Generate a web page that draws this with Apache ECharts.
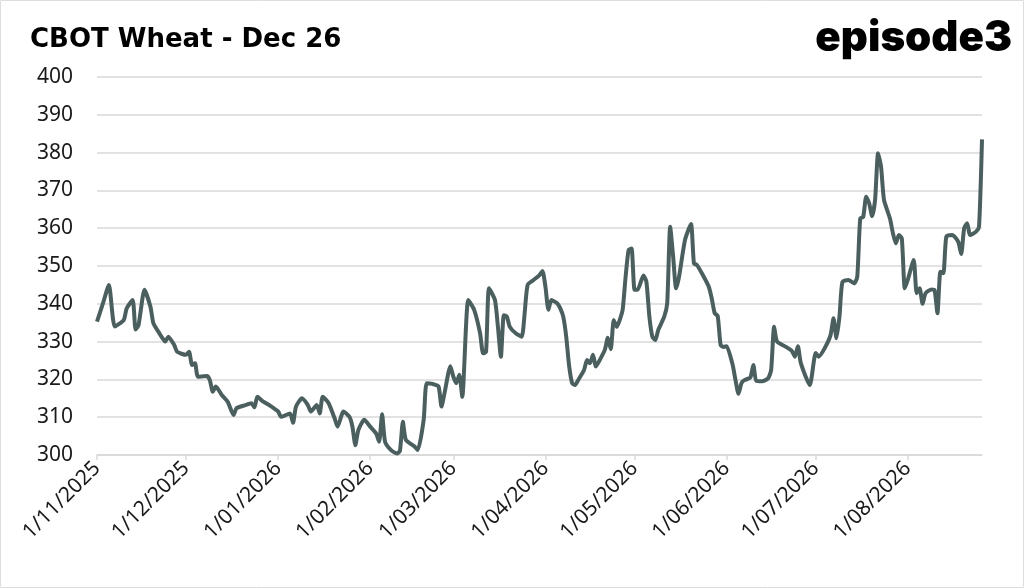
<!DOCTYPE html>
<html>
<head>
<meta charset="utf-8">
<title>CBOT Wheat - Dec 26</title>
<script src="https://cdn.jsdelivr.net/npm/echarts@6/dist/echarts.min.js"></script>
<style>
  html, body { margin: 0; padding: 0; background: #fff; }
  #chart { width: 1024px; height: 588px; }
</style>
</head>
<body>
<div id="chart"></div>
<script>
// price history
var tradeDates = [
  '2025-11-01', '2025-11-03', '2025-11-05', '2025-11-07', '2025-11-10', '2025-11-11', '2025-11-13', '2025-11-14',
  '2025-11-15', '2025-11-17', '2025-11-19', '2025-11-20', '2025-11-22', '2025-11-24', '2025-11-25', '2025-11-27',
  '2025-11-28', '2025-12-01', '2025-12-02', '2025-12-03', '2025-12-04', '2025-12-05', '2025-12-08', '2025-12-09',
  '2025-12-10', '2025-12-11', '2025-12-13', '2025-12-15', '2025-12-17', '2025-12-18', '2025-12-21', '2025-12-23',
  '2025-12-24', '2025-12-25', '2025-12-27', '2025-12-29', '2026-01-01', '2026-01-02', '2026-01-05', '2026-01-06',
  '2026-01-07', '2026-01-09', '2026-01-11', '2026-01-12', '2026-01-14', '2026-01-15', '2026-01-16', '2026-01-18',
  '2026-01-20', '2026-01-21', '2026-01-23', '2026-01-25', '2026-01-26', '2026-01-27', '2026-01-28', '2026-01-30',
  '2026-02-01', '2026-02-03', '2026-02-04', '2026-02-05', '2026-02-06', '2026-02-08', '2026-02-10', '2026-02-11',
  '2026-02-12', '2026-02-13', '2026-02-16', '2026-02-17', '2026-02-19', '2026-02-20', '2026-02-22', '2026-02-24',
  '2026-02-25', '2026-02-26', '2026-02-28', '2026-03-01', '2026-03-02', '2026-03-03', '2026-03-04', '2026-03-06',
  '2026-03-08', '2026-03-10', '2026-03-11', '2026-03-12', '2026-03-13', '2026-03-15', '2026-03-16', '2026-03-17',
  '2026-03-18', '2026-03-19', '2026-03-20', '2026-03-22', '2026-03-24', '2026-03-25', '2026-03-26', '2026-03-28',
  '2026-03-30', '2026-03-31', '2026-04-01', '2026-04-02', '2026-04-03', '2026-04-05', '2026-04-06', '2026-04-07',
  '2026-04-08', '2026-04-09', '2026-04-10', '2026-04-11', '2026-04-12', '2026-04-14', '2026-04-15', '2026-04-16',
  '2026-04-17', '2026-04-18', '2026-04-19', '2026-04-21', '2026-04-22', '2026-04-23', '2026-04-24', '2026-04-25',
  '2026-04-26', '2026-04-27', '2026-04-28', '2026-04-29', '2026-04-30', '2026-05-01', '2026-05-02', '2026-05-04',
  '2026-05-05', '2026-05-06', '2026-05-07', '2026-05-08', '2026-05-09', '2026-05-11', '2026-05-12', '2026-05-13',
  '2026-05-14', '2026-05-15', '2026-05-16', '2026-05-18', '2026-05-20', '2026-05-21', '2026-05-22', '2026-05-24',
  '2026-05-26', '2026-05-27', '2026-05-28', '2026-05-29', '2026-05-30', '2026-05-31', '2026-06-01', '2026-06-03',
  '2026-06-04', '2026-06-05', '2026-06-06', '2026-06-07', '2026-06-09', '2026-06-10', '2026-06-11', '2026-06-13',
  '2026-06-15', '2026-06-16', '2026-06-17', '2026-06-18', '2026-06-21', '2026-06-23', '2026-06-24', '2026-06-25',
  '2026-06-26', '2026-06-29', '2026-07-01', '2026-07-02', '2026-07-04', '2026-07-06', '2026-07-07', '2026-07-08',
  '2026-07-09', '2026-07-10', '2026-07-12', '2026-07-14', '2026-07-15', '2026-07-16', '2026-07-17', '2026-07-18',
  '2026-07-19', '2026-07-20', '2026-07-21', '2026-07-22', '2026-07-23', '2026-07-24', '2026-07-26', '2026-07-27',
  '2026-07-28', '2026-07-29', '2026-07-30', '2026-07-31', '2026-08-01', '2026-08-03', '2026-08-04', '2026-08-05',
  '2026-08-06', '2026-08-07', '2026-08-09', '2026-08-10', '2026-08-11', '2026-08-12', '2026-08-13', '2026-08-14',
  '2026-08-16', '2026-08-18', '2026-08-19', '2026-08-20', '2026-08-21', '2026-08-22', '2026-08-24', '2026-08-25',
  '2026-08-26'
];

var prices = [
  335.3, 340.1, 345.0, 334.0, 335.7, 338.8, 341.0, 333.2,
  334.4, 343.7, 339.2, 334.8, 332.2, 330.0, 331.3, 329.1,
  327.3, 326.5, 327.3, 323.8, 324.3, 320.7, 320.9, 319.8,
  316.7, 318.1, 315.9, 314.1, 310.6, 312.4, 313.2, 313.7,
  312.6, 315.4, 314.1, 313.2, 311.5, 310.1, 311.0, 308.5,
  312.8, 315.0, 313.2, 311.5, 313.2, 311.0, 315.4, 313.7,
  309.7, 307.5, 311.5, 310.1, 307.5, 302.6, 306.6, 309.3,
  307.5, 305.7, 303.5, 310.8, 303.5, 301.3, 300.4, 301.1,
  308.8, 304.0, 302.2, 301.3, 309.3, 319.0, 318.8, 318.1,
  312.8, 316.3, 323.5, 320.7, 319.0, 321.2, 315.4, 341.0,
  338.4, 332.2, 326.9, 327.3, 344.1, 341.0, 333.9, 326.0,
  337.0, 336.6, 333.9, 332.2, 331.3, 337.5, 345.0, 346.3,
  347.6, 348.7, 344.5, 338.4, 341.0, 340.1, 338.8, 336.6,
  331.3, 323.4, 319.0, 318.5, 319.8, 322.5, 325.1, 324.3,
  326.5, 323.4, 324.7, 327.8, 331.0, 328.0, 335.7, 333.9,
  335.7, 338.4, 347.2, 354.2, 354.6, 343.7, 343.7, 347.5,
  345.8, 336.6, 331.3, 330.4, 333.1, 336.6, 340.1, 360.4,
  352.5, 344.1, 347.2, 356.9, 361.1, 350.7, 350.3, 347.6,
  344.5, 341.4, 337.5, 336.8, 329.1, 328.6, 328.8, 324.0,
  319.8, 316.2, 319.0, 319.8, 320.5, 323.8, 319.6, 319.5,
  320.3, 322.5, 333.9, 330.0, 328.6, 327.5, 326.0, 328.8,
  324.3, 318.5, 327.0, 326.0, 328.2, 331.7, 336.2, 330.9,
  336.6, 345.8, 346.3, 345.4, 347.2, 362.6, 363.0, 368.3,
  366.6, 363.2, 367.5, 379.8, 376.3, 367.5, 362.6, 358.7,
  356.0, 358.2, 357.3, 344.1, 346.3, 351.6, 342.8, 344.1,
  340.0, 342.8, 343.8, 343.7, 337.5, 348.5, 348.1, 357.8,
  358.2, 356.4, 353.2, 360.0, 361.3, 358.2, 359.1, 360.4,
  383.5
];

var axisStart = '2025-11-01';
var axisEnd = '2026-08-26';
var priceMin = 300;
var priceMax = 400;
var priceStep = 10;

var DAY = 24 * 3600 * 1000;
var lineColor = '#4b5f5f';
var gridColor = '#d9d9d9';
var textColor = '#1a1a1a';

var seriesData = tradeDates.map(function (d, i) {
  return [d, prices[i]];
});

var chart = echarts.init(document.getElementById('chart'));

chart.setOption({
  animation: false,
  backgroundColor: '#fff',
  title: {
    text: 'CBOT Wheat - Dec 26',
    left: 25,
    top: 22,
    textStyle: {
      fontFamily: 'DejaVu Sans',
      fontSize: 26,
      fontWeight: 'bold',
      color: '#000'
    }
  },
  graphic: [
    // frame round the picture
    {
      type: 'rect',
      shape: { x: 0.5, y: 0.5, width: 1023, height: 587 },
      style: { fill: 'none', stroke: '#dedede', lineWidth: 1 },
      silent: true
    },
    // logo
    {
      type: 'text',
      right: 12,
      top: 17,
      style: {
        text: 'episode3',
        font: '900 42px Inter',
        fill: '#000'
      }
    }
  ],
  grid: {
    left: 97,
    right: 42,
    top: 77,
    bottom: 133
  },
  xAxis: {
    type: 'time',
    min: axisStart,
    max: axisEnd,
    minInterval: 28 * DAY,
    maxInterval: 31 * DAY,
    axisLine: { show: true, lineStyle: { color: gridColor, width: 1.5 } },
    axisTick: { show: true, length: 5, lineStyle: { color: gridColor, width: 1.5 } },
    splitLine: { show: false },
    axisLabel: {
      rotate: 45,
      margin: 10,
      fontFamily: 'Noto Sans',
      fontSize: 21,
      color: textColor,
      formatter: '{d}/{MM}/{yyyy}',
      hideOverlap: false
    }
  },
  yAxis: {
    type: 'value',
    min: priceMin,
    max: priceMax,
    interval: priceStep,
    axisLine: { show: false },
    axisTick: { show: false },
    splitLine: { lineStyle: { color: gridColor, width: 1.5 } },
    axisLabel: {
      margin: 24,
      fontFamily: 'Noto Sans',
      fontSize: 21,
      color: textColor
    }
  },
  series: [
    {
      type: 'line',
      data: seriesData,
      showSymbol: false,
      smooth: 0.2,
      lineStyle: { color: lineColor, width: 4 }
    }
  ]
});

window.addEventListener('resize', function () {
  chart.resize();
});
</script>
</body>
</html>
